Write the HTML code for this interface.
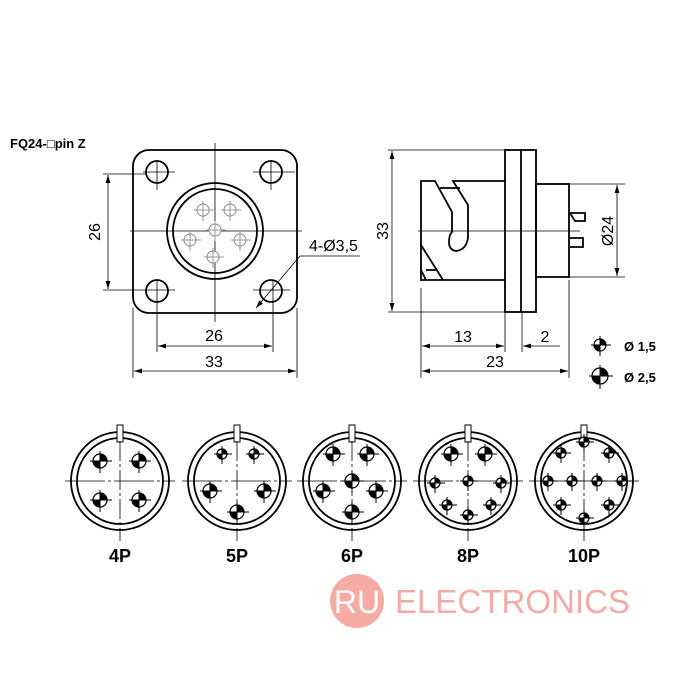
<!DOCTYPE html>
<html><head><meta charset="utf-8"><style>
body{margin:0;background:#fff}
svg{display:block;font-family:"Liberation Sans",sans-serif}
</style></head><body>
<svg id="s" width="700" height="700" viewBox="0 0 700 700" xmlns="http://www.w3.org/2000/svg">
<defs>
<marker id="a" viewBox="0 0 10 6" refX="10" refY="3" markerWidth="10" markerHeight="6" orient="auto-start-reverse"><path d="M0,0L10,3L0,6z" fill="#000"/></marker>
</defs>
<text x="10" y="148" font-size="13" font-weight="bold">FQ24-□pin Z</text>
<g stroke="#000" fill="none" stroke-width="1.8">
<rect x="133" y="150" width="164" height="163" rx="16"/>
<circle cx="157" cy="172" r="11"/><circle cx="271" cy="172" r="11"/>
<circle cx="157" cy="291" r="11"/><circle cx="271" cy="291" r="11"/>
<circle cx="215" cy="231" r="48"/><circle cx="215" cy="231" r="42"/>
</g>
<g stroke="#000" fill="none" stroke-width="0.8">
<line x1="130" y1="231" x2="302" y2="231"/><line x1="215" y1="143" x2="215" y2="322"/>
<line x1="143" y1="172" x2="175" y2="172"/><line x1="157" y1="160" x2="157" y2="190"/>
<line x1="253" y1="172" x2="295" y2="172"/><line x1="271" y1="160" x2="271" y2="190"/>
<line x1="103" y1="174" x2="145" y2="174"/><line x1="103" y1="290" x2="175" y2="290"/>
<line x1="157" y1="280" x2="157" y2="352"/><line x1="253" y1="290" x2="290" y2="290"/>
<line x1="273" y1="280" x2="273" y2="352"/>
<line x1="133" y1="308" x2="133" y2="378"/><line x1="297" y1="308" x2="297" y2="378"/>
<line x1="108" y1="175" x2="108" y2="289" marker-start="url(#a)" marker-end="url(#a)"/>
<line x1="158" y1="346" x2="272" y2="346" marker-start="url(#a)" marker-end="url(#a)"/>
<line x1="134" y1="371" x2="296" y2="371" marker-start="url(#a)" marker-end="url(#a)"/>
<polyline points="256,308 300,256 360,256" marker-start="url(#a)"/>
</g>
<g stroke="#999" fill="none" stroke-width="0.9" id="fp"></g>
<g font-size="16">
<text x="214" y="341" text-anchor="middle">26</text>
<text x="214" y="367" text-anchor="middle">33</text>
<text x="100" y="232" text-anchor="middle" transform="rotate(-90 100 232)" dy="0">26</text>
<text x="309" y="251">4-Ø3,5</text>
<text x="463" y="342" text-anchor="middle">13</text>
<text x="545" y="342" text-anchor="middle">2</text>
<text x="495" y="367" text-anchor="middle">23</text>
<text x="388" y="231" text-anchor="middle" transform="rotate(-90 388 231)">33</text>
<text x="613" y="231" text-anchor="middle" transform="rotate(-90 613 231)">Ø24</text>
</g>
<g stroke="#000" fill="none" stroke-width="1.8">
<rect x="505" y="150" width="31" height="162"/><line x1="521" y1="150" x2="521" y2="312"/>
<path d="M505,181 H453 L468,205 V238 Q466,250 456,251 Q449,250 449,242 Q449,235 452,232 V212 L435,181 H421 V280 H505"/>
<path d="M440,188 H460"/>
<path d="M421,245 L443,280 M426,270 H437 M421,270 L426,280"/>
<rect x="536" y="184" width="33" height="93"/>
<path d="M570,213 H585 V221 H575 Z M570,238 H583 V247 H570"/>
</g>
<g stroke="#000" fill="none" stroke-width="0.8">
<line x1="418" y1="231" x2="580" y2="231"/>
<line x1="388" y1="150" x2="505" y2="150"/><line x1="388" y1="312" x2="505" y2="312"/>
<line x1="569" y1="184" x2="625" y2="184"/><line x1="569" y1="277" x2="625" y2="277"/>
<line x1="421" y1="288" x2="421" y2="378"/><line x1="505" y1="312" x2="505" y2="352"/>
<line x1="522" y1="312" x2="522" y2="352"/><line x1="569" y1="280" x2="569" y2="378"/>
<line x1="392" y1="151" x2="392" y2="311" marker-start="url(#a)" marker-end="url(#a)"/>
<line x1="617" y1="185" x2="617" y2="276" marker-start="url(#a)" marker-end="url(#a)"/>
<line x1="422" y1="346" x2="504" y2="346" marker-start="url(#a)" marker-end="url(#a)"/>
<line x1="560" y1="346" x2="523" y2="346" marker-end="url(#a)"/>
<line x1="422" y1="371" x2="568" y2="371" marker-start="url(#a)" marker-end="url(#a)"/>
</g>
<g font-size="13" font-weight="bold">
<text x="624" y="351">Ø  1,5</text><text x="624" y="382">Ø  2,5</text>
</g>
<g id="pins"></g>
<g font-size="18" font-weight="bold" text-anchor="middle">
<text x="120" y="562">4P</text><text x="237" y="562">5P</text><text x="352" y="562">6P</text><text x="468" y="562">8P</text><text x="584" y="562">10P</text>
</g>
<circle cx="357" cy="601" r="27" fill="#f6aaa4"/>
<text x="357" y="613" font-size="32" fill="#fff" text-anchor="middle">RU</text>
<text x="395" y="613" font-size="33" fill="#f6aaa4" textLength="235">ELECTRONICS</text>
</svg>
<script>
var NS="http://www.w3.org/2000/svg",g=document.getElementById("pins");
function el(t,a,p){var e=document.createElementNS(NS,t);for(var k in a)e.setAttribute(k,a[k]);(p||g).appendChild(e);return e}
function pin(x,y,r,p,gray){
 var c=gray?"#999":"#000";
 el("circle",{cx:x,cy:y,r:r,fill:"#fff",stroke:c,"stroke-width":1.2},p);
 if(!gray){el("path",{d:"M"+x+","+y+"V"+(y-r)+"A"+r+","+r+" 0 0 1 "+(x+r)+","+y+"Z",fill:c},p);
 el("path",{d:"M"+x+","+y+"V"+(y+r)+"A"+r+","+r+" 0 0 1 "+(x-r)+","+y+"Z",fill:c},p);}
 el("line",{x1:x-r-3,y1:y,x2:x+r+5,y2:y,stroke:c,"stroke-width":1},p);
 el("line",{x1:x,y1:y-r-3,x2:x,y2:y+r+5,stroke:c,"stroke-width":1},p);
}
var fp=document.getElementById("fp");
[[203,210],[230,210],[215,230],[190,240],[240,240],[213,257]].forEach(function(q){pin(q[0],q[1],6,fp,true)});
pin(600,345,6);pin(600,376,8);
var B=7,S=5;
var C=[[120,[[-20,-20,B],[19,-20,B],[-20,19,B],[19,19,B]]],
[237,[[-15,-27,S],[17,-27,S],[-27,10,B],[27,10,B],[0,31,B]]],
[352,[[-19,-27,B],[15,-27,B],[0,0,B],[-29,10,B],[24,10,B],[0,31,B]]],
[468,[[-17,-27,B],[17,-27,B],[-33,2,S],[0,0,S],[33,2,S],[-21,24,S],[23,24,S],[0,34,S]]],
[584,[[0,-39,S],[-23,-28,S],[25,-28,S],[-36,0,S],[-12,0,S],[13,0,S],[38,0,S],[-23,24,S],[25,24,S],[0,37,S]]]];
C.forEach(function(c){var x=c[0],y=481;
 el("circle",{cx:x,cy:y,r:49,fill:"none",stroke:"#000","stroke-width":1.8});
 el("circle",{cx:x,cy:y,r:43,fill:"none",stroke:"#000","stroke-width":1.8});
 el("rect",{x:x-3,y:y-56,width:6,height:17,fill:"#fff",stroke:"#000","stroke-width":1});
 el("line",{x1:x-55,y1:y,x2:x+55,y2:y,stroke:"#000","stroke-width":0.8,"stroke-dasharray":"40,3,3,3"});
 el("line",{x1:x,y1:y-40,x2:x,y2:y+60,stroke:"#000","stroke-width":0.8,"stroke-dasharray":"20,3,3,3"});
 c[1].forEach(function(p){pin(x+p[0],y+p[1],p[2])});
});
</script>
</body></html>
